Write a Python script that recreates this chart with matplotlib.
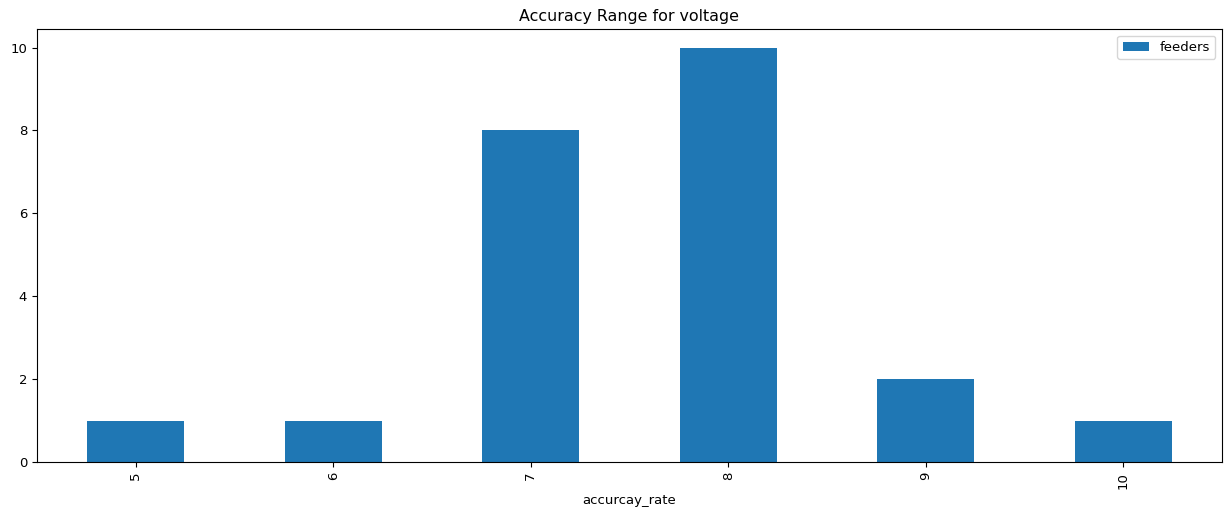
import matplotlib
matplotlib.use('Agg')
import matplotlib.pyplot as plt
import numpy as np

accuracy_rate = ['5', '6', '7', '8', '9', '10']
feeders = [1, 1, 8, 10, 2, 1]

plt.rcParams['font.size'] = 9.5

fig = plt.figure(figsize=(12.24, 5.08), dpi=100)
ax = fig.add_axes([0.0302, 0.0906, 0.9681, 0.8524])

x = np.arange(len(accuracy_rate))
ax.bar(x, feeders, width=0.49, color='#1f77b4', label='feeders')
ax.set_xlim(-0.5, len(x) - 0.5)
ax.set_ylim(0, 10.45)
ax.set_xticks(x)
ax.set_xticklabels(accuracy_rate, rotation=90)
ax.set_xlabel('accurcay_rate')
ax.set_title('Accuracy Range for voltage')
ax.legend(loc='upper right')

fig.savefig('out.png', dpi=100)
